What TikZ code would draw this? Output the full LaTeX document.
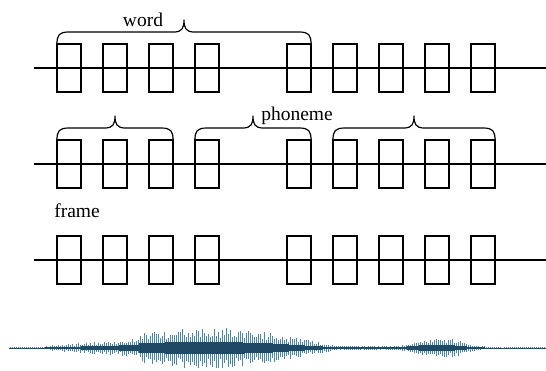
\documentclass[tikz,border=0pt]{standalone}
\usepackage{fontspec}
\setmainfont{Liberation Serif}
\newfontfamily\lblfont{Liberation Serif}
\usetikzlibrary{calc}
\definecolor{wavec}{HTML}{1F4A66}
\begin{document}
\begin{tikzpicture}[x=1pt,y=-1pt,line width=1.2pt,
  frm/.style={draw, minimum width=24pt, minimum height=48pt, inner sep=0pt, outer sep=0pt, line width=1.2pt},
  lbl/.style={font=\lblfont\fontsize{19.5}{22}\selectfont, anchor=base, inner sep=0pt},
  brc/.style={line width=1.2pt, line join=round},
  wave/.style={draw=wavec, line width=0.9pt, opacity=0.7},
  core/.style={draw=wavec, line width=1.2pt}]
\useasboundingbox (0,0) rectangle (546,370);

% frame rows
\foreach \r/\y in {1/68,2/164,3/260} {
  \coordinate (L\r) at (34,\y);
  \coordinate (R\r) at (546,\y);
  \draw (L\r) -- (R\r);
  \foreach \k in {0,1,2,3,5,6,7,8,9}
    \node[frm] (b\r-\k) at ({69+46*\k},\y) {};
}

% braces
\newcommand\mybrace[2]{%
  \draw[brc] let \p1=(#1.north west), \p2=(#2.north east), \n1={0.5*(\x1+\x2)} in
    (\x1,\y1) .. controls (\x1,\y1+9pt) and (\x1+2pt,\y1+12pt) .. (\x1+12pt,\y1+12pt)
    -- (\n1-10pt,\y1+12pt) .. controls (\n1-2pt,\y1+12pt) and (\n1,\y1+16pt) .. (\n1,\y1+24pt)
    .. controls (\n1,\y1+16pt) and (\n1+2pt,\y1+12pt) .. (\n1+10pt,\y1+12pt)
    -- (\x2-12pt,\y1+12pt) .. controls (\x2-2pt,\y1+12pt) and (\x2,\y1+9pt) .. (\x2,\y1);}
\mybrace{b1-0}{b1-5}
\mybrace{b2-0}{b2-2}
\mybrace{b2-3}{b2-5}
\mybrace{b2-6}{b2-9}

% labels
\node[lbl] (word) at (143,26) {word};
\node[lbl] (phon) at (297,120) {phoneme};
\node[lbl] (frame) at (77,217) {frame};

% waveform
\draw[draw=wavec!60, line width=0.8pt] (10,348) -- (546,348);
\pgfmathsetseed{7}
\foreach \x in {10,12,...,546} {
  \pgfmathsetmacro\a{(\x<45)*1 + (\x>=45)*(\x<140)*(2+(\x-45)*0.085)
     + (\x>=140)*(\x<270)*(15.5+5*sin((\x-140)*1.4))
     + (\x>=270)*(\x<335)*(15.5-(\x-270)*0.2)
     + (\x>=335)*(\x<400)*2.5
     + (\x>=400)*(\x<475)*(2.5+8*sin((\x-400)*2.4))
     + (\x>=475)*(\x<495)*(2.5-(\x-475)*0.075)
     + (\x>=495)*1}
  \pgfmathsetmacro\t{\a*(0.5+0.5*rnd)}
  \pgfmathsetmacro\b{\a*(0.5+0.5*rnd)}
  \draw[wave] (\x,348-\t) -- (\x,348+\b);
  \pgfmathsetmacro\c{0.3*\a}
  \draw[core] (\x,348-\c) -- (\x,348+\c);
}
\end{tikzpicture}
\end{document}
